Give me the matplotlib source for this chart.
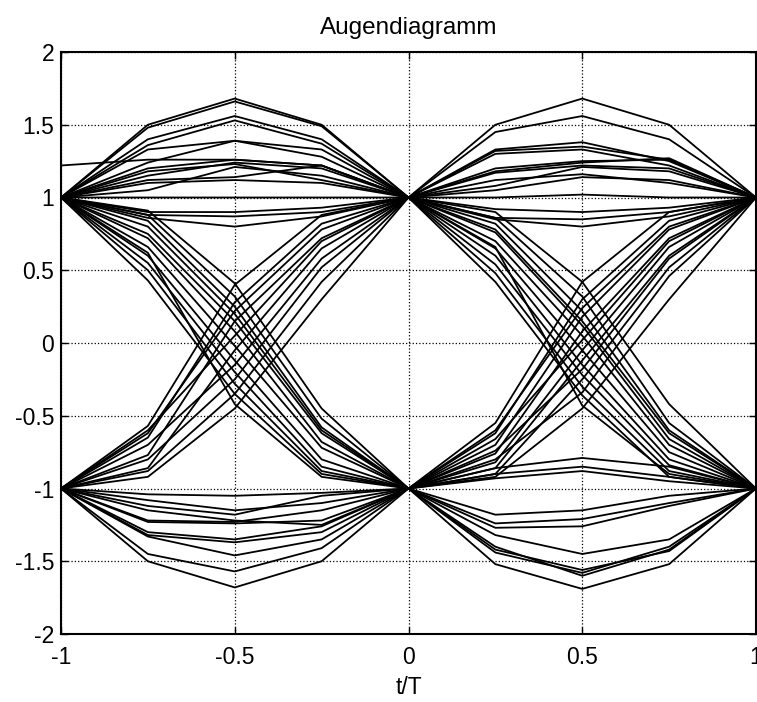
import matplotlib
matplotlib.use("Agg")
import matplotlib.pyplot as plt

# sample instants (t/T) of every trace
t_over_T = [-1, -0.75, -0.5, -0.25, 0, 0.25, 0.5, 0.75, 1]

# traces that stay high over the left half
hold_high = [
    [1, 1.50, 1.68, 1.50, 1, 1.20, 1.25, 1.26, 1],
    [1, 1.48, 1.66, 1.49, 1, 0.90, 0.42, -0.42, -1],
    [1, 1.40, 1.56, 1.40, 1, 1.33, 1.38, 1.25, 1],
    [1, 1.36, 1.53, 1.37, 1, 0.76, 0.12, -0.66, -1],
    [1, 1.33, 1.39, 1.33, 1, 1.50, 1.68, 1.50, 1],
    [1.22, 1.26, 1.26, 1.22, 1, 1.05, 1.14, 1.12, 1],
    [1, 1.24, 1.39, 1.28, 1, 0.60, -0.15, -0.80, -1],
    [1, 1.20, 1.26, 1.22, 1, 1.45, 1.56, 1.40, 1],
    [1, 1.18, 1.23, 1.12, 1, 0.86, 0.32, -0.55, -1],
    [1, 1.15, 1.24, 1.20, 1, 1.32, 1.35, 1.26, 1],
    [1, 1.12, 1.14, 1.22, 1, 0.65, -0.05, -0.75, -1],
    [1, 1.10, 1.12, 1.10, 1, 1.17, 1.22, 1.20, 1],
    [1, 1.05, 1.21, 1.15, 1, 0.82, 0.22, -0.60, -1],
    [1, 1.00, 1.00, 1.00, 1, 1.30, 1.33, 1.22, 1],
    [1, 0.90, 0.90, 0.93, 1, 1.18, 1.24, 1.27, 1],
    [1, 0.88, 0.87, 0.90, 1, 0.70, 0.05, -0.70, -1],
    [1, 0.86, 0.80, 0.87, 1, 1.12, 1.16, 1.10, 1],
]

# traces rising over the left half
rise = [
    [-1, -0.57, 0.40, 0.88, 1, 1.00, 1.02, 1.00, 1],
    [-1, -0.65, 0.28, 0.82, 1, 0.54, -0.22, -0.84, -1],
    [-1, -0.77, 0.15, 0.72, 1, 0.92, 0.90, 0.93, 1],
    [-1, -0.86, -0.05, 0.65, 1, 0.48, -0.30, -0.88, -1],
    [-1, -0.92, -0.45, 0.30, 1, 0.86, 0.85, 0.90, 1],
    [-1, -0.60, 0.05, 0.70, 1, 0.42, -0.36, -0.92, -1],
    [-1, -0.70, -0.15, 0.58, 1, 0.85, 0.80, 0.87, 1],
    [-1, -0.80, -0.25, 0.52, 1, 0.78, 0.15, -0.62, -1],
    [-1, -0.88, -0.35, 0.42, 1, 1.08, 1.21, 1.18, 1],
    [-1, -0.62, 0.22, 0.78, 1, 0.66, -0.43, -0.90, -1],
]

# traces that stay low over the left half
hold_low = [
    [-1, -1.04, -1.05, -1.03, -1, -0.86, -0.79, -0.85, -1],
    [-1, -1.08, -1.15, -1.10, -1, -0.55, 0.42, 0.90, 1],
    [-1, -1.12, -1.18, -1.05, -1, -1.18, -1.15, -1.05, -1],
    [-1, -1.22, -1.23, -1.15, -1, -0.62, 0.30, 0.84, 1],
    [-1, -1.23, -1.24, -1.22, -1, -0.90, -0.85, -0.92, -1],
    [-1, -1.30, -1.35, -1.26, -1, -0.70, 0.18, 0.78, 1],
    [-1, -1.32, -1.37, -1.30, -1, -1.24, -1.21, -1.10, -1],
    [-1, -1.33, -1.46, -1.35, -1, -0.76, 0.08, 0.72, 1],
    [-1, -1.45, -1.57, -1.41, -1, -0.93, -0.88, -0.95, -1],
    [-1, -1.50, -1.68, -1.50, -1, -0.82, -0.05, 0.66, 1],
    [-1, -1.15, -1.22, -1.25, -1, -1.27, -1.26, -1.12, -1],
]

# traces falling over the left half
fall = [
    [1, 0.91, 0.41, -0.45, -1, -1.32, -1.45, -1.35, -1],
    [1, 0.88, 0.32, -0.52, -1, -0.86, -0.12, 0.60, 1],
    [1, 0.84, 0.25, -0.58, -1, -1.42, -1.56, -1.43, -1],
    [1, 0.75, 0.15, -0.62, -1, -0.90, -0.25, 0.52, 1],
    [1, 0.72, 0.08, -0.68, -1, -1.44, -1.58, -1.40, -1],
    [1, 0.66, -0.02, -0.72, -1, -0.92, -0.45, 0.30, 1],
    [1, 0.60, -0.12, -0.80, -1, -1.40, -1.60, -1.42, -1],
    [1, 0.55, -0.20, -0.85, -1, -0.66, 0.02, 0.70, 1],
    [1, 0.50, -0.28, -0.88, -1, -1.52, -1.69, -1.52, -1],
    [1, 0.43, -0.35, -0.90, -1, -0.74, -0.18, 0.58, 1],
    [1, 0.80, 0.20, -0.60, -1, -0.80, -0.34, 0.46, 1],
    [1, 0.62, -0.42, -0.92, -1, -0.60, 0.24, 0.80, 1],
]

x_ticks = [-1, -0.5, 0, 0.5, 1]
x_tick_labels = ["-1", "-0.5", "0", "0.5", "1"]
y_ticks = [-2, -1.5, -1, -0.5, 0, 0.5, 1, 1.5, 2]
y_tick_labels = ["-2", "-1.5", "-1", "-0.5", "0", "0.5", "1", "1.5", "2"]

plt.rcParams['font.family'] = ['Liberation Sans', 'DejaVu Sans']

fig = plt.figure(figsize=(7.57, 7.02), dpi=100)
ax = fig.add_axes([61/757, 68/702, 695/757, 582/702])

for group in (hold_high, rise, hold_low, fall):
    for tr in group:
        ax.plot(t_over_T, tr, color='black', lw=1.3)

ax.set_xlim(-1, 1)
ax.set_ylim(-2, 2)
ax.set_xticks(x_ticks)
ax.set_xticklabels(x_tick_labels)
ax.set_yticks(y_ticks)
ax.set_yticklabels(y_tick_labels)
ax.tick_params(direction='in', length=5, width=1, labelsize=16.5,
               top=True, right=True)
ax.tick_params(axis='x', pad=9)
ax.tick_params(axis='y', pad=5)
ax.grid(True, color='black', linestyle=':', linewidth=0.9)
for sp in ax.spines.values():
    sp.set_linewidth(1.5)

ax.set_title("Augendiagramm", fontsize=17.5, pad=13)
ax.set_xlabel("t/T", fontsize=16.5, labelpad=5)

fig.savefig("out.png", dpi=100)
